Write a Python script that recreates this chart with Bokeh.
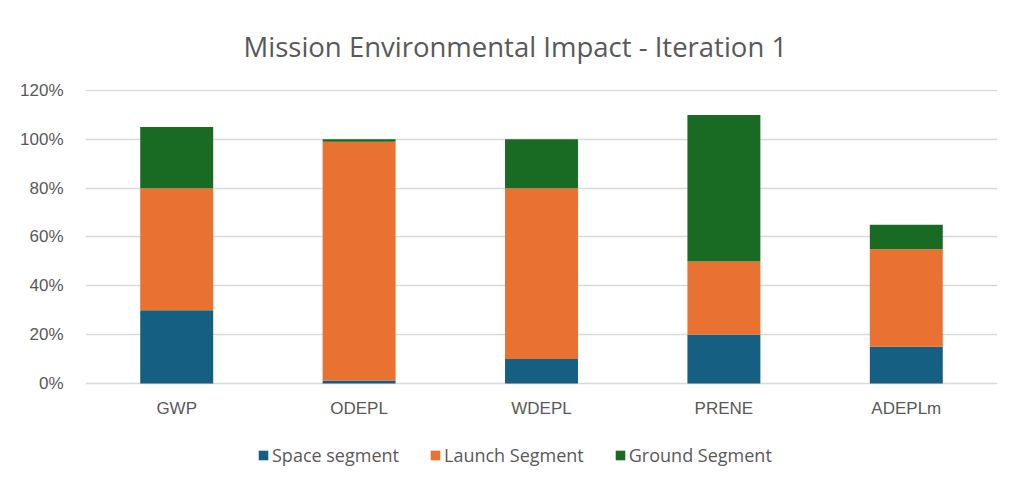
from bokeh.plotting import figure
from bokeh.models import ColumnDataSource, NumeralTickFormatter, Legend, LegendItem, FixedTicker
from bokeh.core.properties import value
from bokeh.embed import file_html
from bokeh.resources import INLINE

categories = ["GWP", "ODEPL", "WDEPL", "PRENE", "ADEPLm"]
space_segment = [0.30, 0.012, 0.10, 0.20, 0.15]
launch_segment = [0.50, 0.978, 0.70, 0.30, 0.40]
ground_segment = [0.25, 0.01, 0.20, 0.60, 0.10]
baseline = [0, 0, 0, 0, 0]
series_names = ["Space segment", "Launch Segment", "Ground Segment"]
colors = ["#156082", "#E97132", "#196B24"]
y_ticks = [0, 0.2, 0.4, 0.6, 0.8, 1.0, 1.2]

src = ColumnDataSource(dict(cat=categories, space=space_segment,
                            launch=launch_segment, ground=ground_segment, base=baseline))

# frame: 294 px for the data area, plus 104 px below zero for labels and legend
y_end = 1.204
y_start = -y_end * 104 / 294
p = figure(x_range=categories, y_range=(y_start, y_end), frame_width=912, frame_height=398,
           output_backend="svg", toolbar_location=None,
           min_border_left=85, min_border_right=5, min_border_top=89, min_border_bottom=0)
p.x_range.range_padding = 0

r = p.vbar_stack(["space", "launch", "ground"], x="cat", width=0.4, source=src,
                 color=colors, line_color=None)

# category labels under the zero line
p.text(x="cat", y="base", text="cat", source=src, y_offset=25,
       text_align="center", text_baseline="middle",
       text_font=value("Liberation Sans"), text_font_size="17px", text_color="#595959")

p.title.text = "Mission Environmental Impact - Iteration 1"
p.title.align = "left"
p.title.offset = 158
p.title.text_font = "Open Sans"
p.title.text_font_style = "normal"
p.title.text_font_size = "27.5px"
p.title.text_color = "#595959"
p.title.standoff = 50

p.outline_line_color = None
p.xgrid.grid_line_color = None
p.ygrid.grid_line_color = "#d9d9d9"
p.ygrid.grid_line_width = 1.5
p.xaxis.visible = False

p.yaxis.ticker = FixedTicker(ticks=y_ticks)
p.yaxis.formatter = NumeralTickFormatter(format="0%")
ax = p.yaxis[0]
ax.axis_line_color = None
ax.major_tick_line_color = None
ax.minor_tick_line_color = None
ax.major_label_text_font = "Liberation Sans"
ax.major_label_text_font_size = "17px"
ax.major_label_text_color = "#595959"
ax.major_label_standoff = 16

legend = Legend(items=[LegendItem(label=n, renderers=[rr]) for n, rr in zip(series_names, r)],
                orientation="horizontal", location=(172, 20),
                glyph_width=12, glyph_height=12, label_standoff=3, spacing=30,
                label_text_font="Open Sans", label_text_font_size="18px",
                label_text_color="#595959", border_line_color=None,
                background_fill_alpha=0, margin=0, padding=4)
p.add_layout(legend, "center")

open("out.html", "w").write(file_html(p, INLINE))
